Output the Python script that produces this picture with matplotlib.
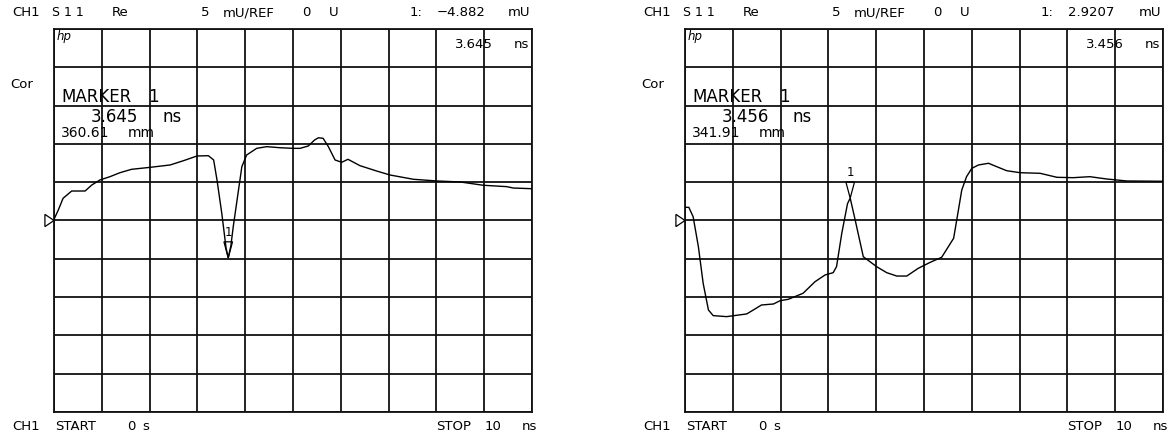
import matplotlib
matplotlib.use("Agg")
import matplotlib.pyplot as plt
from matplotlib.patches import Polygon

W, H = 1172, 444

# trace data: time (ns) and real part of S11 (mU)
t_left = [0.0, 0.09, 0.19, 0.37, 0.54, 0.65, 0.79, 0.96, 1.17, 1.38, 1.62, 2.01,
          2.43, 2.71, 2.99, 3.23, 3.34, 3.41, 3.51, 3.6, 3.645, 3.7, 3.75, 3.86,
          3.93, 4.03, 4.24, 4.45, 4.73, 5.01, 5.15, 5.32, 5.45, 5.53, 5.63, 5.74,
          5.88, 6.02, 6.15, 6.4, 6.75, 7.03, 7.52, 8.01, 8.5, 8.98, 9.47, 9.61, 10.0]
v_left = [0.15, 1.37, 2.9, 3.85, 3.85, 3.85, 4.63, 5.29, 5.72, 6.24, 6.68, 6.94,
          7.25, 7.81, 8.42, 8.46, 7.9, 5.29, 0.94, -3.6, -4.882, -3.3, -0.8, 3.98,
          7.03, 8.55, 9.42, 9.64, 9.5, 9.42, 9.42, 9.73, 10.5, 10.8, 10.73, 9.64,
          7.9, 7.6, 7.99, 7.16, 6.46, 5.94, 5.38, 5.16, 5.03, 4.6, 4.42, 4.24, 4.15]

t_right = [0.0, 0.08, 0.17, 0.28, 0.38, 0.49, 0.59, 0.87, 1.29, 1.43, 1.6, 1.85,
           1.99, 2.16, 2.47, 2.72, 2.93, 3.1, 3.17, 3.28, 3.4, 3.456, 3.56, 3.73,
           3.87, 4.01, 4.22, 4.43, 4.64, 4.88, 5.13, 5.37, 5.62, 5.72, 5.79, 5.89,
           6.0, 6.14, 6.35, 6.52, 6.73, 7.01, 7.43, 7.78, 8.12, 8.47, 8.82, 9.24, 10.0]
v_right = [1.72, 1.72, 0.5, -3.42, -8.2, -11.68, -12.42, -12.55, -12.2, -11.68,
           -11.03, -10.9, -10.47, -10.29, -9.5, -7.99, -7.11, -6.81, -6.03, -1.67,
           2.2, 2.9207, 0.07, -4.73, -5.38, -6.03, -6.81, -7.25, -7.25, -6.24, -5.46,
           -4.8, -2.32, 1.37, 3.98, 5.72, 6.81, 7.25, 7.47, 7.03, 6.5, 6.24, 6.16,
           5.64, 5.59, 5.72, 5.42, 5.16, 5.12]

marker_t = [3.645, 3.456]
marker_v = [-4.882, 2.9207]
marker_mm = ["360.61", "341.91"]
marker_txt = ["\u22124.882", "2.9207"]

fig = plt.figure(figsize=(W / 100, H / 100), dpi=100)
plt.rcParams["font.family"] = ["DejaVu Sans"]
fs = 9.5


def ftext(x, y, s, **kw):
    kw.setdefault("fontsize", fs)
    kw.setdefault("va", "center")
    fig.text(x / W, 1 - y / H, s, **kw)


panels = [(54, t_left, v_left), (685, t_right, v_right)]
for i, (x0, t, v) in enumerate(panels):
    ax = fig.add_axes([x0 / W, 1 - 412 / H, 478 / W, 383 / H])
    ax.set_xlim(0, 10)
    ax.set_ylim(-25, 25)
    ax.set_xticks(range(0, 11))
    ax.set_yticks(range(-25, 26, 5))
    ax.grid(True, color="#111111", linewidth=1.3)
    ax.tick_params(length=0, labelbottom=False, labelleft=False)
    for sp in ax.spines.values():
        sp.set_linewidth(1.3)
        sp.set_color("#111111")
    ax.plot(t, v, color="black", linewidth=1.0, zorder=3)

    # reference position triangle
    ref = Polygon([(-0.019, 0.8), (-0.019, -0.8), (0.0, 0.0)], closed=True,
                  facecolor="white", edgecolor="black", linewidth=0.9,
                  transform=ax.get_yaxis_transform(), clip_on=False, zorder=4)
    ax.add_patch(ref)

    # marker triangle
    mt, mv = marker_t[i], marker_v[i]
    tri = Polygon([(mt - 0.09, mv + 2.1), (mt + 0.09, mv + 2.1), (mt, mv)],
                  closed=True, facecolor="none", edgecolor="black",
                  linewidth=0.9, zorder=4)
    ax.add_patch(tri)
    ax.text(mt, mv + 2.5, "1", ha="center", va="bottom", fontsize=8.5)

    dx = x0 - 54
    # header line
    ftext(12 + dx, 13, "CH1")
    ftext(52 + dx, 13, "S 1 1", fontsize=9)
    ftext(112 + dx, 13, "Re")
    ftext(201 + dx, 13, "5")
    ftext(223 + dx, 13, "mU/REF")
    ftext(302 + dx, 13, "0")
    ftext(329 + dx, 13, "U")
    ftext(410 + dx, 13, "1:")
    ftext(437 + dx, 13, marker_txt[i])
    ftext(530 + dx, 13, "mU", ha="right")

    ftext(57 + dx, 36, "hp", style="italic", fontsize=8.5)
    ftext(455 + dx, 44, f"{marker_t[i]:.3f}")
    ftext(529 + dx, 44, "ns", ha="right")
    ftext(10 + dx, 84, "Cor")

    # marker readout
    ftext(61 + dx, 97, "MARKER", fontsize=12)
    ftext(148 + dx, 97, "1", fontsize=12)
    ftext(91 + dx, 117, f"{marker_t[i]:.3f}", fontsize=12)
    ftext(162 + dx, 117, "ns", fontsize=12)
    ftext(61 + dx, 133, marker_mm[i], fontsize=10)
    ftext(128 + dx, 133, "mm", fontsize=10)

    # footer line
    ftext(12 + dx, 426, "CH1")
    ftext(55 + dx, 426, "START")
    ftext(127 + dx, 426, "0")
    ftext(142 + dx, 426, "s")
    ftext(436 + dx, 426, "STOP")
    ftext(485 + dx, 426, "10")
    ftext(537 + dx, 426, "ns", ha="right")

fig.savefig("out.png", dpi=100)
